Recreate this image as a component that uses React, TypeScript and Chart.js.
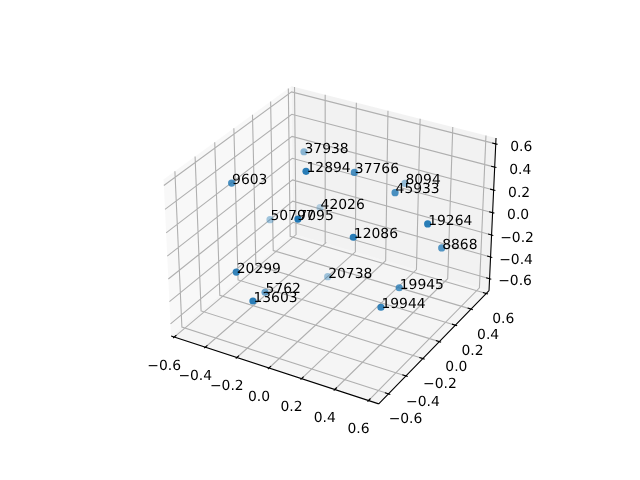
import React, { useEffect, useRef } from "react";
import { Chart, registerables } from "chart.js";

Chart.register(...registerables);

// Data
const pointLabels = ["9603", "37938", "12894", "37766", "8094", "45933", "42026", "50797", "7095", "19264", "12086", "8868", "20299", "20738", "5762", "13603", "19945", "19944"];
const pointX = [-0.481, -0.361, -0.068, 0.072, 0.14, 0.287, -0.318, -0.488, -0.013, 0.553, 0.233, 0.552, -0.283, -0.129, -0.267, -0.139, 0.408, 0.424];
const pointY = [-0.262, 0.32, -0.174, 0.108, 0.585, 0.173, 0.425, 0.148, -0.361, 0.036, -0.201, 0.221, -0.558, 0.172, -0.29, -0.63, 0.004, -0.241];
const pointZ = [0.391, 0.348, 0.593, 0.461, 0.092, 0.328, -0.205, -0.2, 0.331, 0.254, 0.169, -0.079, -0.102, -0.591, -0.464, -0.241, -0.341, -0.33];

const tickValues = [-0.6, -0.4, -0.2, 0, 0.2, 0.4, 0.6];
const tickLabels = ["\u22120.6", "\u22120.4", "\u22120.2", "0.0", "0.2", "0.4", "0.6"];

const xLim = [-0.62, 0.66];
const yLim = [-0.71, 0.636];
const zLim = [-0.71, 0.65];

// mplot3d view: elev 30, azim -60, box aspect 4:4:3
const BOX = [1.1906, 1.1906, 0.8929];
const elev = (30 * Math.PI) / 180;
const azim = (-60 * Math.PI) / 180;
const R = [-Math.sin(azim), Math.cos(azim), 0];
const U = [-Math.sin(elev) * Math.cos(azim), -Math.sin(elev) * Math.sin(azim), Math.cos(elev)];
const N = [Math.cos(elev) * Math.cos(azim), Math.cos(elev) * Math.sin(azim), Math.sin(elev)];
const DIST = 10;
const FOCAL = 1997.8;
const CX = 333;
const CY = 237.4;

function project(x: number, y: number, z: number) {
  const p = [
    ((x - xLim[0]) / (xLim[1] - xLim[0]) - 0.5) * BOX[0],
    ((y - yLim[0]) / (yLim[1] - yLim[0]) - 0.5) * BOX[1],
    ((z - zLim[0]) / (zLim[1] - zLim[0]) - 0.5) * BOX[2],
  ];
  const dot = (a: number[]) => a[0] * p[0] + a[1] * p[1] + a[2] * p[2];
  const d = dot(N);
  return { x: CX + (FOCAL * dot(R)) / (DIST - d), y: CY - (FOCAL * dot(U)) / (DIST - d), d };
}

type P3 = [number, number, number];
const path = (pts: P3[]) => pts.map((q) => { const s = project(q[0], q[1], q[2]); return { x: s.x, y: s.y }; });
const GAP = { x: NaN, y: NaN };
const segs = (lines: P3[][]) => lines.flatMap((l) => [...path(l), GAP]);

const [x0, x1] = xLim;
const [y0, y1] = yLim;
const [z0, z1] = zLim;
const dx = (x1 - x0) / 12;
const dy = (y1 - y0) / 12;

const gridLines: P3[][] = [
  ...tickValues.map((t): P3[] => [[t, y0, z0], [t, y1, z0], [t, y1, z1]]),
  ...tickValues.map((t): P3[] => [[x1, t, z0], [x0, t, z0], [x0, t, z1]]),
  ...tickValues.map((t): P3[] => [[x0, y0, t], [x0, y1, t], [x1, y1, t]]),
];
const axisLines: P3[][] = [
  [[x0, y0, z0], [x1, y0, z0]],
  [[x1, y0, z0], [x1, y1, z0]],
  [[x1, y1, z0], [x1, y1, z1]],
  ...tickValues.map((t): P3[] => [[t, y0 - 0.1 * dy, z0], [t, y0 + 0.2 * dy, z0]]),
  ...tickValues.map((t): P3[] => [[x1 + 0.1 * dx, t, z0], [x1 - 0.2 * dx, t, z0]]),
  ...tickValues.map((t): P3[] => [[x1 + 0.1 * dx, y1, t], [x1 - 0.2 * dx, y1, t]]),
];

const FONT = '13.89px "DejaVu Sans"';

export default function App() {
  const ref = useRef<HTMLCanvasElement>(null);
  useEffect(() => {
    document.body.style.margin = "0";
    const projected = pointLabels.map((label, i) => ({ label, ...project(pointX[i], pointY[i], pointZ[i]) }));
    const ds = projected.map((p) => p.d);
    const dMin = Math.min(...ds);
    const dMax = Math.max(...ds);
    const sorted = [...projected].sort((a, b) => a.d - b.d);
    const colors = sorted.map((p) => `rgba(31,119,180,${(1 - (0.7 * (dMax - p.d)) / (dMax - dMin)).toFixed(3)})`);

    const pane = (pts: P3[], color: string, order: number) => ({
      data: path(pts),
      showLine: true,
      fill: "shape",
      backgroundColor: color,
      borderWidth: 0,
      borderColor: color,
      pointRadius: 0,
      order,
    });

    const textPlugin = {
      id: "texts3d",
      afterDatasetsDraw(chart: any) {
        const { ctx, scales } = chart;
        const sx = scales.x;
        const sy = scales.y;
        ctx.save();
        ctx.font = FONT;
        ctx.textRendering = "geometricPrecision";
        ctx.fillStyle = "#000";
        ctx.textAlign = "center";
        ctx.textBaseline = "middle";
        tickValues.forEach((t, i) => {
          const a = project(t, y0, z0);
          ctx.fillText(tickLabels[i], sx.getPixelForValue(a.x) - 10, sy.getPixelForValue(a.y) + 29);
          const b = project(x1, t, z0);
          ctx.fillText(tickLabels[i], sx.getPixelForValue(b.x) + 17, sy.getPixelForValue(b.y) + 26);
          const c = project(x1, y1, t);
          ctx.fillText(tickLabels[i], sx.getPixelForValue(c.x) + 25.5, sy.getPixelForValue(c.y) + 3);
        });
        ctx.textAlign = "left";
        ctx.textBaseline = "alphabetic";
        projected.forEach((p) => {
          ctx.fillText(p.label, sx.getPixelForValue(p.x) + 0.5, sy.getPixelForValue(p.y) + 0.8);
        });
        ctx.restore();
      },
    };

    const chart = new Chart(ref.current as HTMLCanvasElement, {
      type: "scatter",
      data: {
        datasets: [
          {
            data: sorted.map((p) => ({ x: p.x, y: p.y })),
            backgroundColor: colors,
            borderWidth: 0,
            pointRadius: 3.6,
            order: 0,
          },
          { data: segs(axisLines), showLine: true, borderColor: "#000", borderWidth: 1.11, pointRadius: 0, order: 1 },
          { data: segs(gridLines), showLine: true, borderColor: "#b0b0b0", borderWidth: 1.11, pointRadius: 0, order: 2 },
          pane([[x0, y0, z0], [x0, y1, z0], [x0, y1, z1], [x0, y0, z1]], "rgba(242,242,242,0.5)", 3),
          pane([[x0, y1, z0], [x1, y1, z0], [x1, y1, z1], [x0, y1, z1]], "rgba(230,230,230,0.5)", 3),
          pane([[x0, y0, z0], [x1, y0, z0], [x1, y1, z0], [x0, y1, z0]], "rgba(236,236,236,0.5)", 3),
        ],
      } as any,
      options: {
        animation: false,
        responsive: false,
        layout: { padding: 0, autoPadding: false },
        plugins: { legend: { display: false }, tooltip: { enabled: false } },
        scales: {
          x: { type: "linear", min: 0, max: 640, display: false },
          y: { type: "linear", min: 0, max: 480, reverse: true, display: false },
        },
      } as any,
      plugins: [textPlugin],
    });
    return () => chart.destroy();
  }, []);
  return <canvas ref={ref} width={640} height={480} style={{ display: "block" }} />;
}
